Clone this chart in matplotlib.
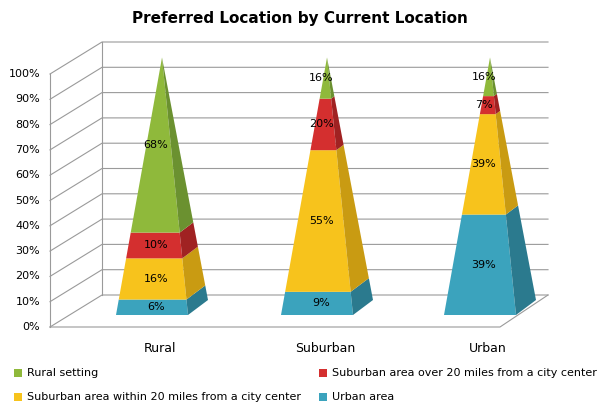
import numpy as np
import matplotlib
matplotlib.use("Agg")
import matplotlib.pyplot as plt
from matplotlib.patches import Polygon

categories = ["Rural", "Suburban", "Urban"]
series = ["Urban area", "Suburban area within 20 miles from a city center",
          "Suburban area over 20 miles from a city center", "Rural setting"]
values = {
    "Urban area": [6, 9, 39],
    "Suburban area within 20 miles from a city center": [16, 55, 39],
    "Suburban area over 20 miles from a city center": [10, 20, 7],
    "Rural setting": [68, 16, 16],
}
labels = {
    "Urban area": ["6%", "9%", "39%"],
    "Suburban area within 20 miles from a city center": ["16%", "55%", "39%"],
    "Suburban area over 20 miles from a city center": ["10%", "20%", "7%"],
    "Rural setting": ["68%", "16%", "16%"],
}
front = {"Urban area": "#3ba3bd", "Suburban area within 20 miles from a city center": "#f7c31c",
         "Suburban area over 20 miles from a city center": "#d42f2f", "Rural setting": "#8fb93b"}
side = {"Urban area": "#2b7a8e", "Suburban area within 20 miles from a city center": "#c99b12",
        "Suburban area over 20 miles from a city center": "#a02222", "Rural setting": "#6b9130"}
yticks = list(range(0, 101, 10))

fig = plt.figure(figsize=(6, 4.11), dpi=100)
ax = fig.add_axes([0, 0, 1, 1])
ax.set_xlim(0, 600); ax.set_ylim(411, 0); ax.axis("off")

def yf(v):  # front plane pixel y
    return 327 - v * 2.53

# walls / gridlines
gc = "#9a9a9a"
for t in yticks:
    y = yf(t)
    ax.plot([50, 102, 548], [y, y - 32, y - 32], color=gc, lw=0.8, zorder=1)
    ax.text(40, y, f"{t}%", ha="right", va="center", fontsize=8)
ax.plot([50, 50], [yf(0), yf(100)], color=gc, lw=0.8)
ax.plot([102, 102], [yf(0) - 32, yf(100) - 32], color=gc, lw=0.8)
ax.plot([50, 500, 548], [yf(0), yf(0), yf(0) - 32], color=gc, lw=0.8)

centers = [152, 317, 480]
w, ddx, ddy = 36, 20, -15
for i, c in enumerate(centers):
    FL = np.array([c - w, 315.0]); FR = np.array([c + w, 315.0]); BR = FR + [ddx, ddy]
    apex = np.array([c + ddx / 2, 307.5 - 250])
    P = lambda b, v: b * (1 - v / 100) + apex * (v / 100)
    v0 = 0
    for s in series:
        v1 = min(v0 + values[s][i], 100)
        ax.add_patch(Polygon([P(FL, v0), P(FR, v0), P(FR, v1), P(FL, v1)], closed=True,
                             fc=front[s], ec="none", zorder=3))
        ax.add_patch(Polygon([P(FR, v0), P(BR, v0), P(BR, v1), P(FR, v1)], closed=True,
                             fc=side[s], ec="none", zorder=3))
        ym = (P(FL, v0)[1] + P(FL, v1)[1]) / 2
        ax.text(c + 4, ym, labels[s][i], ha="center", va="center", fontsize=8, zorder=4)
        v0 = v1
    ax.text(c + 8, 348, categories[i], ha="center", va="center", fontsize=9)

ax.text(300, 18, "Preferred Location by Current Location", ha="center", va="center",
        fontsize=11, fontweight="bold")

leg = [("Rural setting", 18, 373), ("Suburban area over 20 miles from a city center", 323, 373),
       ("Suburban area within 20 miles from a city center", 18, 397), ("Urban area", 323, 397)]
for name, x, y in leg:
    ax.add_patch(Polygon([(x - 4, y - 4), (x + 4, y - 4), (x + 4, y + 4), (x - 4, y + 4)],
                         fc=front[name], ec="none"))
    ax.text(x + 9, y, name, ha="left", va="center", fontsize=8)

fig.savefig("out.png", dpi=100)
